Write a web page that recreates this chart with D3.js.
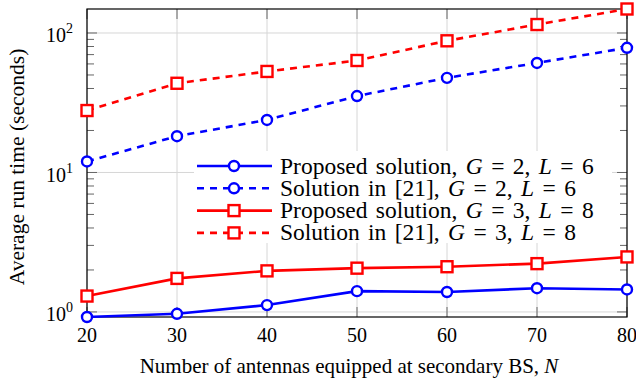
<!DOCTYPE html>
<html>
<head>
<meta charset="utf-8">
<script src="https://cdn.jsdelivr.net/npm/d3@7"></script>
<style>
  body { margin: 0; background: #fff; }
  text { font-family: "Liberation Serif", "DejaVu Serif", serif; fill: #000; }
</style>
</head>
<body>
<script>
// data
const antennas = [20, 30, 40, 50, 60, 70, 80];
const propG2 = [0.92, 0.97, 1.12, 1.41, 1.39, 1.48, 1.45];
const refG2 = [12.0, 18.2, 23.8, 35.3, 47.7, 61.0, 78.3];
const propG3 = [1.30, 1.74, 1.97, 2.06, 2.11, 2.22, 2.48];
const refG3 = [27.8, 43.6, 53.0, 63.5, 87.9, 115, 148.6];
const yTicks = [1, 10, 100];
const xTicks = [20, 30, 40, 50, 60, 70, 80];

const series = [
  { name: "Proposed solution, ", g: 2, l: 6, vals: propG2, color: "#0000ff", dash: null, mark: "circle" },
  { name: "Solution in [21], ", g: 2, l: 6, vals: refG2, color: "#0000ff", dash: "7,6", mark: "circle" },
  { name: "Proposed solution, ", g: 3, l: 8, vals: propG3, color: "#ff0000", dash: null, mark: "square" },
  { name: "Solution in [21], ", g: 3, l: 8, vals: refG3, color: "#ff0000", dash: "7,6", mark: "square" }
];

const W = 636, H = 381;
const plot = { left: 87, right: 627, top: 9, bottom: 317 };

const svg = d3.select("body").append("svg")
  .attr("width", W).attr("height", H);

const allVals = series.flatMap(s => s.vals);
const x = d3.scaleLinear().domain([20, 80]).range([plot.left, plot.right]);
const y = d3.scaleLog().domain(d3.extent(allVals)).range([plot.bottom, plot.top]);

//******* GRID */
const grid_g = svg.append("g").attr("class", "grid");
grid_g.selectAll("line.v").data(xTicks).join("line")
  .attr("x1", d => x(d)).attr("x2", d => x(d))
  .attr("y1", plot.top).attr("y2", plot.bottom)
  .attr("stroke", "#d6d6d6").attr("stroke-width", 1);
grid_g.selectAll("line.h").data(yTicks).join("line")
  .attr("x1", plot.left).attr("x2", plot.right)
  .attr("y1", d => y(d)).attr("y2", d => y(d))
  .attr("stroke", "#d6d6d6").attr("stroke-width", 1);

//******* TICKS (inward, both sides) */
const minor = [];
[1, 10, 100].forEach(dec => { for (let k = 2; k <= 9; k++) minor.push(dec * k); });
const minorIn = minor.filter(v => v >= y.domain()[0] && v <= y.domain()[1]);
const tick_g = svg.append("g").attr("class", "ticks").attr("stroke", "#666").attr("stroke-width", 1);
[[plot.left, 1], [plot.right, -1]].forEach(([x0, dir]) => {
  tick_g.append("g").selectAll("line").data(yTicks).join("line")
    .attr("x1", x0).attr("x2", x0 + dir * 10)
    .attr("y1", d => y(d)).attr("y2", d => y(d));
  tick_g.append("g").selectAll("line").data(minorIn).join("line")
    .attr("x1", x0).attr("x2", x0 + dir * 7)
    .attr("y1", d => y(d)).attr("y2", d => y(d));
});
[[plot.top, 1], [plot.bottom, -1]].forEach(([y0, dir]) => {
  tick_g.append("g").selectAll("line").data(xTicks).join("line")
    .attr("x1", d => x(d)).attr("x2", d => x(d))
    .attr("y1", y0).attr("y2", y0 + dir * 10);
});

//******* FRAME */
svg.append("rect")
  .attr("x", plot.left).attr("y", plot.top)
  .attr("width", plot.right - plot.left).attr("height", plot.bottom - plot.top)
  .attr("fill", "none").attr("stroke", "#000").attr("stroke-width", 1.2);

//******* TICK LABELS */
svg.append("g").selectAll("text").data(xTicks).join("text")
  .attr("x", d => x(d)).attr("y", 342)
  .attr("text-anchor", "middle").attr("font-size", 20)
  .text(d => d);

const ylab = svg.append("g").selectAll("text").data(yTicks).join("text")
  .attr("x", 73).attr("y", d => y(d) + 9.5)
  .attr("text-anchor", "end").attr("font-size", 20);
ylab.append("tspan").text("10");
ylab.append("tspan").attr("font-size", 14).attr("dy", -9).text(d => Math.round(Math.log10(d)));

//******* AXIS LABELS */
const xl = svg.append("text")
  .attr("x", 349).attr("y", 373)
  .attr("text-anchor", "middle").attr("font-size", 21);
xl.append("tspan").text("Number of antennas equipped at secondary BS, ");
xl.append("tspan").attr("font-style", "italic").text("N");

svg.append("text")
  .attr("transform", "translate(24,167) rotate(-90)")
  .attr("text-anchor", "middle").attr("font-size", 21.5)
  .text("Average run time (seconds)");

//******* LINES + MARKERS */
const line = d3.line().x((d, i) => x(antennas[i])).y(d => y(d));

function drawMark(g, type, color) {
  if (type === "circle") {
    g.append("circle").attr("r", 5)
      .attr("fill", "#fff").attr("stroke", color).attr("stroke-width", 2.4);
  } else {
    g.append("rect").attr("x", -5.5).attr("y", -5.5).attr("width", 11).attr("height", 11)
      .attr("fill", "#fff").attr("stroke", color).attr("stroke-width", 2.4);
  }
}

const lines_g = svg.append("g").attr("class", "lines_g");
series.forEach(s => {
  const g = lines_g.append("g");
  g.append("path").datum(s.vals)
    .attr("d", line)
    .attr("fill", "none").attr("stroke", s.color).attr("stroke-width", 2.6)
    .attr("stroke-dasharray", s.dash);
  g.selectAll("g.m").data(s.vals).join("g")
    .attr("transform", (d, i) => `translate(${x(antennas[i])},${y(d)})`)
    .each(function () { drawMark(d3.select(this), s.mark, s.color); });
});

//******* LEGEND */
const legend_g = svg.append("g").attr("class", "legend_g");
legend_g.append("rect")
  .attr("x", 194).attr("y", 151).attr("width", 418).attr("height", 92)
  .attr("fill", "#fff");
series.forEach((s, i) => {
  const cy = 166 + i * 22.3;
  const row = legend_g.append("g");
  row.append("line")
    .attr("x1", 197).attr("x2", 272).attr("y1", cy).attr("y2", cy)
    .attr("stroke", s.color).attr("stroke-width", 2.6)
    .attr("stroke-dasharray", s.dash);
  drawMark(row.append("g").attr("transform", `translate(234,${cy})`), s.mark, s.color);
  const t = row.append("text").attr("x", 280).attr("y", cy + 7.5)
    .attr("font-size", 23.5).attr("word-spacing", 2.5);
  t.append("tspan").text(s.name);
  t.append("tspan").attr("font-style", "italic").text("G");
  t.append("tspan").text(` = ${s.g}, `);
  t.append("tspan").attr("font-style", "italic").text("L");
  t.append("tspan").text(` = ${s.l}`);
});
</script>
</body>
</html>
